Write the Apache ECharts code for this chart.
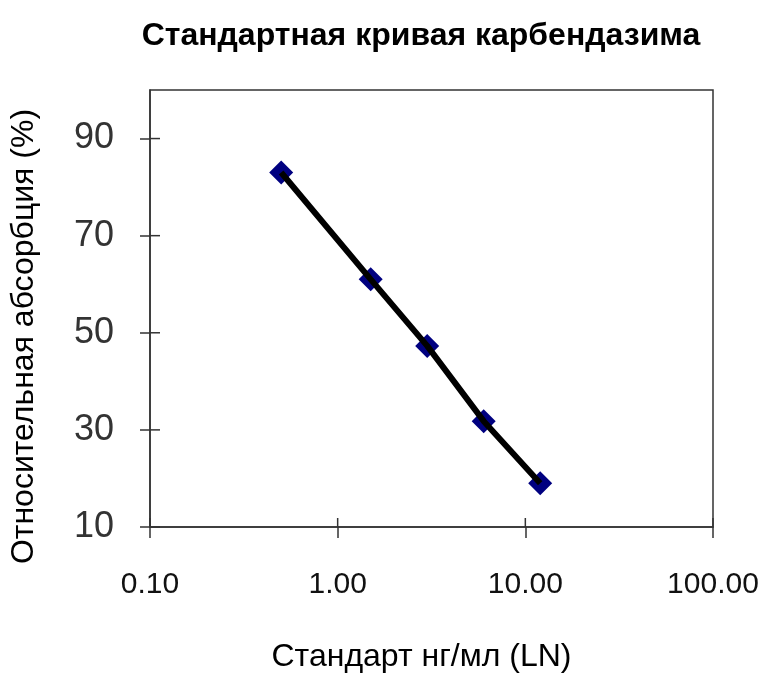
<!DOCTYPE html>
<html>
<head>
<meta charset="utf-8">
<script src="https://cdn.jsdelivr.net/npm/echarts@6/dist/echarts.min.js"></script>
<style>html,body{margin:0;padding:0;background:#fff}#c{width:765px;height:678px}</style>
</head>
<body>
<div id="c"></div>
<script>
const chartTitle = 'Стандартная кривая карбендазима';
const xAxisName = 'Стандарт нг/мл (LN)';
const yAxisName = 'Относительная абсорбция (%)';
const concentrations = [0.5, 1.5, 3, 6, 12];
const absorption = [83.0, 61.0, 47.3, 31.8, 19.0];
const xTicks = [0.1, 1, 10, 100];
const yTicks = [10, 30, 50, 70, 90];

const X_MIN = 0.1, X_MAX = 100, Y_MIN = 10, Y_MAX = 100;
const pts = concentrations.map((c, i) => [c, absorption[i]]);
const chart = echarts.init(document.getElementById('c'), null, {renderer: 'canvas'});
const axisCol = '#333';

function innerTick(dx, dy) {
  return function (params, api) {
    const p = api.coord([api.value(0), api.value(1)]);
    return {
      type: 'line',
      shape: {x1: p[0], y1: p[1], x2: p[0] + dx, y2: p[1] + dy},
      style: {stroke: axisCol, lineWidth: 1.5}
    };
  };
}

chart.setOption({
  backgroundColor: '#fff',
  animation: false,
  title: {
    text: chartTitle, left: 416, top: 15, textAlign: 'center',
    textStyle: {fontFamily: 'Liberation Sans', fontWeight: 'bold', fontSize: 32, color: '#000'}
  },
  grid: {left: 148, right: 52, top: 90, bottom: 146, show: true, borderColor: axisCol, borderWidth: 1.5, backgroundColor: 'transparent'},
  xAxis: {
    type: 'log', logBase: 10, min: X_MIN, max: X_MAX, position: 'bottom',
    splitLine: {show: false}, minorTick: {show: false},
    name: xAxisName, nameLocation: 'middle', nameGap: 114,
    nameTextStyle: {fontFamily: 'Liberation Sans', fontSize: 32, color: '#000', padding: [0, 20, 0, 0]},
    axisLine: {show: true, lineStyle: {color: axisCol, width: 1.5}},
    axisTick: {show: true, inside: false, length: 11, lineStyle: {color: axisCol, width: 1.5}},
    axisLabel: {margin: 43, fontFamily: 'Liberation Sans', fontSize: 30, color: '#111',
      formatter: v => Number(v).toFixed(2)}
  },
  yAxis: {
    type: 'value', min: Y_MIN, max: Y_MAX, position: 'left',
    splitLine: {show: false},
    name: yAxisName, nameLocation: 'middle', nameGap: 110,
    nameTextStyle: {fontFamily: 'Liberation Sans', fontSize: 32, color: '#000', padding: [0, 56, 0, 0]},
    axisLine: {show: true, lineStyle: {color: axisCol, width: 1.5}},
    axisTick: {show: true, inside: false, length: 10, customValues: yTicks, lineStyle: {color: axisCol, width: 1.5}},
    axisLabel: {margin: 36, fontFamily: 'Liberation Sans', fontSize: 36, color: '#333', customValues: yTicks,
      padding: [10, 0, 0, 0]}
  },
  series: [
    {
      type: 'custom', silent: true, z: 1,
      data: xTicks.map(v => [v, Y_MIN]),
      renderItem: innerTick(0, -9)
    },
    {
      type: 'custom', silent: true, z: 1,
      data: yTicks.map(v => [X_MIN, v]),
      renderItem: innerTick(10, 0)
    },
    {
      type: 'scatter', data: pts,
      symbol: 'diamond', symbolSize: 24, itemStyle: {color: '#000080', opacity: 1}, z: 2
    },
    {
      type: 'line', data: pts,
      showSymbol: false, symbol: 'none', lineStyle: {color: '#000', width: 6}, z: 3
    }
  ]
});
</script>
</body>
</html>
